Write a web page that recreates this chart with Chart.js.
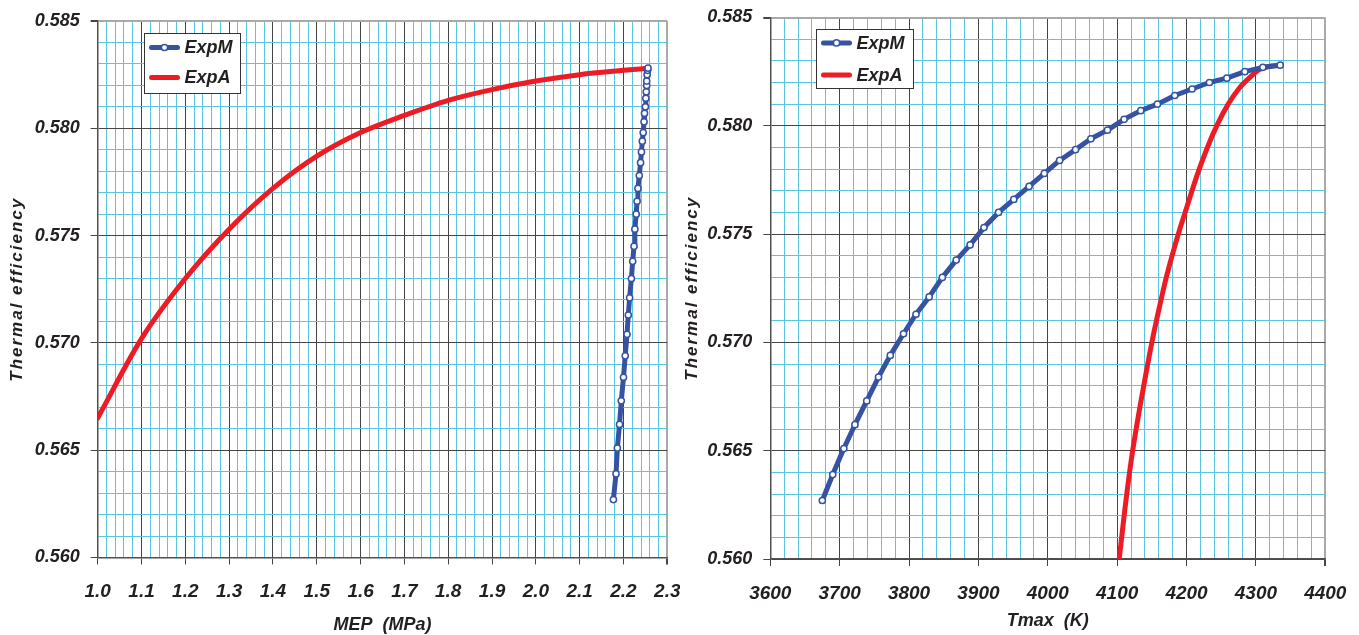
<!DOCTYPE html>
<html>
<head>
<meta charset="utf-8">
<title>Thermal efficiency vs MEP and Tmax</title>
<script src="https://cdn.jsdelivr.net/npm/chart.js@4.4.1/dist/chart.umd.min.js"></script>
<style>
  html, body { margin: 0; padding: 0; background: #fff; }
  #wrap { position: relative; width: 1359px; height: 635px; overflow: hidden; }
  .panel { position: absolute; top: 0; }
  #p1 { left: 0; }
  #p2 { left: 680px; }
</style>
</head>
<body>
<div id="wrap">
  <div class="panel" id="p1"><canvas id="c1" width="680" height="635"></canvas></div>
  <div class="panel" id="p2"><canvas id="c2" width="679" height="635"></canvas></div>
</div>
<script>
// ---- data ----
// ExpM: thermal efficiency (shared by both panels)
const effExpM = [0.5627, 0.5639, 0.5651, 0.5662, 0.5673, 0.5684, 0.5694, 0.5704, 0.5713, 0.5721,
                 0.5730, 0.5738, 0.5745, 0.5753, 0.5760, 0.5766, 0.5772, 0.5778, 0.5784, 0.5789,
                 0.5794, 0.5798, 0.5803, 0.5807, 0.5810, 0.5814, 0.5817, 0.5820, 0.5822, 0.5825,
                 0.5827, 0.5828];
// ExpM: mean effective pressure (MPa)
const mepExpM = [2.177, 2.183, 2.186, 2.191, 2.195, 2.200, 2.204, 2.208, 2.211, 2.214,
                 2.218, 2.221, 2.224, 2.226, 2.229, 2.231, 2.233, 2.236, 2.239, 2.241,
                 2.243, 2.245, 2.247, 2.248, 2.250, 2.251, 2.252, 2.253, 2.253, 2.254,
                 2.255, 2.256];
// ExpM: maximum cycle temperature (K)
const tmaxExpM = [3675, 3690, 3706, 3722, 3739, 3756, 3773, 3792, 3810, 3829,
                  3848, 3868, 3888, 3908, 3929, 3951, 3973, 3995, 4017, 4040,
                  4062, 4086, 4110, 4134, 4158, 4183, 4208, 4233, 4258, 4284,
                  4310, 4335];

// ExpA against MEP
const mepExpA = [1.0, 1.1, 1.2, 1.3, 1.4, 1.5, 1.6, 1.7, 1.8, 1.9, 2.0, 2.1, 2.2, 2.256];
const effExpAvsMep = [0.5665, 0.5702, 0.5730, 0.5753, 0.5772, 0.5787, 0.5798, 0.5806,
                      0.5813, 0.5818, 0.5822, 0.5825, 0.5827, 0.5828];

// ExpA against Tmax
const tmaxExpA = [4103, 4110, 4120, 4130, 4140, 4150, 4160, 4170, 4180, 4190, 4200,
                  4215, 4230, 4245, 4260, 4275, 4290, 4305, 4320, 4335];
const effExpAvsTmax = [0.5600, 0.5620, 0.5645, 0.5665, 0.5683, 0.5700, 0.5715, 0.5729, 0.5741,
                       0.5752, 0.5762, 0.5777, 0.5790, 0.5801, 0.5810, 0.5817, 0.5822, 0.5826,
                       0.58275, 0.5828];

// axis ranges: [min, max, minor step, major step]
const effAxis = [0.560, 0.585, 0.001, 0.005];
const mepAxis = [1.0, 2.3, 0.02, 0.1];
const tmaxAxis = [3600, 4400, 20, 100];

const seriesNames = ['ExpM', 'ExpA'];

// ---- styling ----
const BLUE = '#3552a3';
const RED = '#ed1c24';
const INK = '#231f20';
const FONT = '"Liberation Sans", Arial, Helvetica, sans-serif';
const MINOR = 'rgb(88,198,222)';
const MAJOR = '#454545';
const EDGE = '#a9a9a9';

const pts = (xs, ys) => xs.map((x, i) => ({ x, y: ys[i] }));
const onStep = (v, step) => Math.abs(v / step - Math.round(v / step)) < 1e-6;

// axis titles (y title is letter-spaced)
const axisTitles = {
  id: 'axisTitles',
  afterDraw(chart, args, o) {
    const { ctx, chartArea: a } = chart;
    ctx.save();
    ctx.fillStyle = INK;
    ctx.textAlign = 'center';
    ctx.textBaseline = 'middle';
    ctx.font = 'italic bold 18px ' + FONT;
    ctx.fillText(o.x, (a.left + a.right) / 2, a.bottom + o.xGap);
    ctx.font = 'italic bold 17px ' + FONT;
    ctx.translate(a.left - o.yGap, (a.top + a.bottom) / 2);
    ctx.rotate(-Math.PI / 2);
    if ('letterSpacing' in ctx) ctx.letterSpacing = '2px';
    ctx.fillText(o.y, 0, 0);
    ctx.restore();
  }
};

// boxed legend inside the plot area
const boxLegend = {
  id: 'boxLegend',
  afterDatasetsDraw(chart, args, o) {
    const { ctx, chartArea: a } = chart;
    const x0 = Math.round(a.left + o.dx) + 0.5;
    const y0 = Math.round(a.top + o.dy) + 0.5;
    ctx.save();
    ctx.fillStyle = '#fff';
    ctx.fillRect(x0, y0, o.w, o.h);
    ctx.strokeStyle = '#333';
    ctx.lineWidth = 1;
    ctx.strokeRect(x0, y0, o.w, o.h);
    chart.data.datasets.forEach((ds, i) => {
      const cy = y0 + o.row0 + i * o.rowGap;
      ctx.strokeStyle = ds.borderColor;
      ctx.lineWidth = ds.borderWidth;
      ctx.lineCap = 'round';
      ctx.beginPath();
      ctx.moveTo(x0 + 7, cy);
      ctx.lineTo(x0 + 33, cy);
      ctx.stroke();
      if (ds.pointRadius > 0) {
        ctx.beginPath();
        ctx.arc(x0 + 20, cy, ds.pointRadius, 0, Math.PI * 2);
        ctx.fillStyle = ds.pointBackgroundColor;
        ctx.fill();
        ctx.lineWidth = ds.pointBorderWidth;
        ctx.strokeStyle = ds.pointBorderColor;
        ctx.stroke();
      }
      ctx.fillStyle = INK;
      ctx.font = 'italic bold 18px ' + FONT;
      ctx.textAlign = 'left';
      ctx.textBaseline = 'middle';
      ctx.fillText(ds.label, x0 + 40, cy + 1);
    });
    ctx.restore();
  }
};

function gridFor(axis) {
  const [min, max, , major] = axis;
  return {
    color: c => {
      const v = c.tick ? c.tick.value : 0;
      if (Math.abs(v - max) < 1e-9) return EDGE;
      return onStep(v, major) ? MAJOR : MINOR;
    },
    lineWidth: c => {
      const v = c.tick ? c.tick.value : 0;
      return Math.abs(v - max) < 1e-9 ? 2 : 1;
    },
    tickColor: c => (c.tick && onStep(c.tick.value, major) ? MAJOR : 'rgba(0,0,0,0)'),
    tickLength: 7,
    drawTicks: true
  };
}

function makeChart(id, cfg) {
  const [emin, emax, estep, emajor] = effAxis;
  const [xmin, xmax, xstep, xmajor] = cfg.xAxis;
  return new Chart(document.getElementById(id), {
    type: 'scatter',
    data: {
      datasets: [
        {
          label: seriesNames[0],
          data: pts(cfg.mx, effExpM),
          showLine: true,
          borderColor: BLUE,
          borderWidth: 5,
          borderJoinStyle: 'round',
          borderCapStyle: 'round',
          tension: 0,
          pointRadius: 3.1,
          pointHoverRadius: 3.1,
          pointBorderWidth: 1.5,
          pointBackgroundColor: '#fff',
          pointBorderColor: BLUE
        },
        {
          label: seriesNames[1],
          data: pts(cfg.ax, cfg.ay),
          showLine: true,
          borderColor: RED,
          borderWidth: 5,
          borderJoinStyle: 'round',
          borderCapStyle: 'round',
          cubicInterpolationMode: 'monotone',
          pointRadius: 0,
          pointHoverRadius: 0
        }
      ]
    },
    options: {
      responsive: false,
      animation: false,
      events: [],
      layout: { padding: cfg.padding },
      plugins: {
        legend: { display: false },
        tooltip: { enabled: false },
        axisTitles: cfg.titles,
        boxLegend: cfg.legend
      },
      scales: {
        x: {
          type: 'linear',
          min: xmin,
          max: xmax,
          grid: gridFor(cfg.xAxis),
          border: { color: '#505050', width: 1.5 },
          ticks: {
            stepSize: xstep,
            autoSkip: false,
            minRotation: 0,
            maxRotation: 0,
            padding: 16,
            color: INK,
            font: { family: FONT, size: 19, style: 'italic', weight: 'bold' },
            callback: v => (onStep(v, xmajor) ? v.toFixed(cfg.xDigits) : '')
          },
          afterFit: s => {
            s.height = cfg.xHeight;
            s.paddingLeft = 0;
            s.paddingRight = 0;
          }
        },
        y: {
          type: 'linear',
          min: emin,
          max: emax,
          grid: gridFor(effAxis),
          border: { color: '#505050', width: 1.5 },
          ticks: {
            stepSize: estep,
            autoSkip: false,
            padding: 11,
            color: INK,
            font: { family: FONT, size: 18, style: 'italic', weight: 'bold' },
            callback: v => (onStep(v, emajor) ? v.toFixed(3) : '')
          },
          afterFit: s => {
            s.width = cfg.yWidth;
            s.paddingTop = 0;
            s.paddingBottom = 0;
          }
        }
      }
    },
    plugins: [axisTitles, boxLegend]
  });
}

// left panel: efficiency vs MEP
makeChart('c1', {
  mx: mepExpM, ax: mepExpA, ay: effExpAvsMep,
  xAxis: mepAxis, xDigits: 1,
  padding: { left: 0, top: 21, right: 12.7, bottom: 0 },
  yWidth: 97.7, xHeight: 77.5,
  titles: { x: 'MEP  (MPa)', y: 'Thermal efficiency', xGap: 67.5, yGap: 80.7 },
  legend: { dx: 46.3, dy: 12.3, w: 96, h: 60, row0: 14, rowGap: 30 }
});

// right panel: efficiency vs Tmax
makeChart('c2', {
  mx: tmaxExpM, ax: tmaxExpA, ay: effExpAvsTmax,
  xAxis: tmaxAxis, xDigits: 0,
  padding: { left: 0, top: 17.5, right: 33.7, bottom: 0 },
  yWidth: 90.3, xHeight: 76,
  titles: { x: 'Tmax  (K)', y: 'Thermal efficiency', xGap: 62, yGap: 78.3 },
  legend: { dx: 45.7, dy: 11.8, w: 97, h: 59, row0: 13.4, rowGap: 32 }
});
</script>
</body>
</html>
